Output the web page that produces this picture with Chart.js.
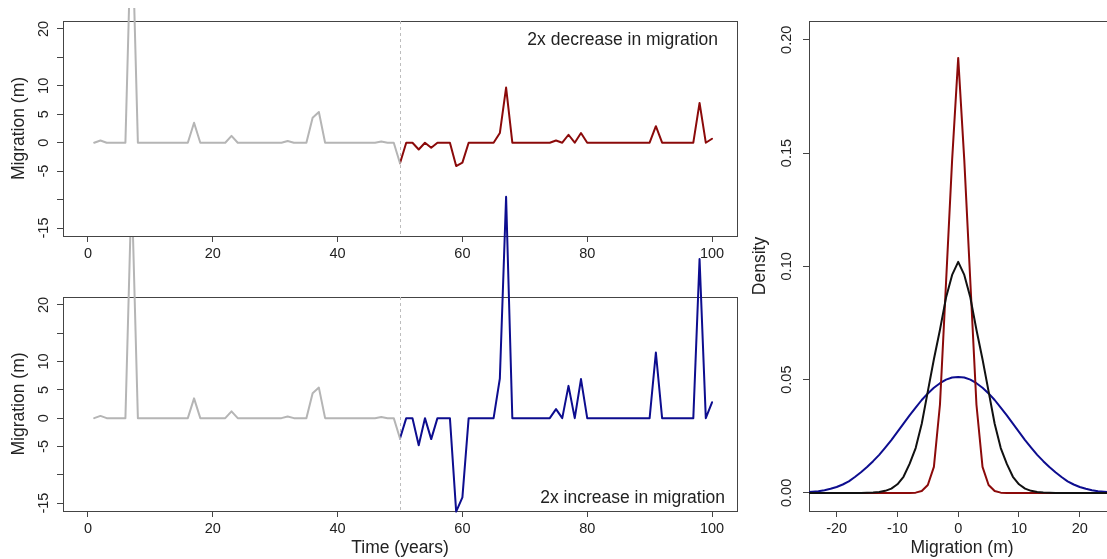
<!DOCTYPE html>
<html>
<head>
<meta charset="utf-8">
<script src="https://cdn.jsdelivr.net/npm/chart.js@4.4.1/dist/chart.umd.min.js"></script>
<style>
  html, body { margin: 0; padding: 0; background: #fff; }
  body { width: 1107px; height: 559px; overflow: hidden; position: relative; }
  canvas { position: absolute; }
</style>
</head>
<body>
<canvas id="top-panel" width="750" height="270" style="left:0;top:0"></canvas>
<canvas id="bottom-panel" width="750" height="379" style="left:0;top:180px"></canvas>
<canvas id="density-panel" width="380" height="559" style="left:750px;top:0"></canvas>
<script>
// --- data ---
const changeYear = 50;
const baseYears = Array.from({ length: 50 }, (_, i) => i + 1);   // 1..50
const afterYears = Array.from({ length: 51 }, (_, i) => i + 50); // 50..100

const baseMigration = [
  0, 0.4, 0, 0, 0, 0, 41, 0, 0, 0,
  0, 0, 0, 0, 0, 0, 3.5, 0, 0, 0,
  0, 0, 1.2, 0, 0, 0, 0, 0, 0, 0,
  0, 0.3, 0, 0, 0, 4.4, 5.4, 0, 0, 0,
  0, 0, 0, 0, 0, 0, 0.2, 0, 0, -3.6
];
const decreaseMigration = [
  -3.6,
  0, 0, -1.2, 0, -0.9, 0, 0, 0, -4.1, -3.5,
  0, 0, 0, 0, 0, 1.7, 9.7, 0, 0, 0,
  0, 0, 0, 0, 0.4, 0, 1.4, 0, 1.7, 0,
  0, 0, 0, 0, 0, 0, 0, 0, 0, 0,
  2.9, 0, 0, 0, 0, 0, 0, 7.0, 0, 0.7
];
const increaseMigration = [
  -3.6,
  0, 0, -4.8, 0, -3.7, 0, 0, 0, -16.5, -14.0,
  0, 0, 0, 0, 0, 7.0, 39.1, 0, 0, 0,
  0, 0, 0, 0, 1.6, 0, 5.7, 0, 6.9, 0,
  0, 0, 0, 0, 0, 0, 0, 0, 0, 0,
  11.6, 0, 0, 0, 0, 0, 0, 28.1, 0, 2.8
];

const timeTicks = [0, 20, 40, 60, 80, 100];
const migTicks = [-15, -10, -5, 0, 5, 10, 15, 20];
const migTickLabels = ['-15', '', '-5', '0', '5', '10', '', '20'];

const densX = Array.from({ length: 51 }, (_, i) => i - 25); // -25..25
const densBase = [
  0, 0, 0, 0, 0, 0, 0, 0, 0, 0,
  0.0001, 0.0002, 0.0004, 0.0009, 0.0019, 0.0038, 0.0071, 0.0128, 0.0198, 0.0305,
  0.0448, 0.0590, 0.0720, 0.0862, 0.0962, 0.1020, 0.0962, 0.0862, 0.0720, 0.0590,
  0.0448, 0.0305, 0.0198, 0.0128, 0.0071, 0.0038, 0.0019, 0.0009, 0.0004, 0.0002,
  0.0001, 0, 0, 0, 0, 0, 0, 0, 0, 0, 0
];
const densDecrease = [
  0, 0, 0, 0, 0, 0, 0, 0, 0, 0,
  0, 0, 0, 0, 0, 0, 0, 0, 0.0001, 0.0008,
  0.0035, 0.0115, 0.0390, 0.0930, 0.1470, 0.1920, 0.1470, 0.0930, 0.0390, 0.0115,
  0.0035, 0.0008, 0.0001, 0, 0, 0, 0, 0, 0, 0,
  0, 0, 0, 0, 0, 0, 0, 0, 0, 0, 0
];
const densIncrease = [
  0.0003, 0.0005, 0.0007, 0.0012, 0.0018, 0.0026, 0.0037, 0.0051, 0.0070, 0.0091,
  0.0114, 0.0140, 0.0168, 0.0200, 0.0233, 0.0269, 0.0306, 0.0342, 0.0376, 0.0410,
  0.0439, 0.0464, 0.0484, 0.0500, 0.0509, 0.0512, 0.0509, 0.0500, 0.0484, 0.0464,
  0.0439, 0.0410, 0.0376, 0.0342, 0.0306, 0.0269, 0.0233, 0.0200, 0.0168, 0.0140,
  0.0114, 0.0091, 0.0070, 0.0051, 0.0037, 0.0026, 0.0018, 0.0012, 0.0007, 0.0005, 0.0003
];
const densXTicks = [-20, -10, 0, 10, 20];
const densYTicks = [0, 0.05, 0.10, 0.15, 0.20];
const densYTickLabels = ['0.00', '0.05', '0.10', '0.15', '0.20'];

// --- styling ---
const FONT = '"Liberation Sans", Arial, Helvetica, sans-serif';
const INK = '#222';
const AXIS = '#444';
const TICK_FONT = { family: FONT, size: 14.5 };
const TITLE_FONT = { family: FONT, size: 17.5 };

Chart.defaults.font.family = FONT;
Chart.defaults.color = INK;

const points = (xs, ys) => xs.map((x, i) => ({ x: x, y: ys[i] }));

// box around plot region, like R's box()
const framePlugin = {
  id: 'frame',
  beforeDatasetsDraw(chart) {
    const { ctx, chartArea: a } = chart;
    ctx.save();
    ctx.strokeStyle = AXIS;
    ctx.lineWidth = 1;
    ctx.strokeRect(Math.round(a.left) + 0.5, Math.round(a.top) + 0.5,
      Math.round(a.right - a.left), Math.round(a.bottom - a.top));
    ctx.restore();
  }
};

// dashed line at the year migration changes
const changePlugin = {
  id: 'change',
  beforeDatasetsDraw(chart, args, opts) {
    if (opts.at === undefined) return;
    const { ctx, chartArea: a, scales } = chart;
    const x = Math.round(scales.x.getPixelForValue(opts.at)) + 0.5;
    ctx.save();
    ctx.strokeStyle = '#bdbdbd';
    ctx.lineWidth = 1;
    ctx.setLineDash([3, 3]);
    ctx.beginPath();
    ctx.moveTo(x, a.top);
    ctx.lineTo(x, a.bottom);
    ctx.stroke();
    ctx.restore();
  }
};

// corner label inside the panel
const notePlugin = {
  id: 'note',
  afterDraw(chart, args, opts) {
    if (!opts.text) return;
    const { ctx, chartArea: a } = chart;
    ctx.save();
    ctx.font = TITLE_FONT.size + 'px ' + FONT;
    ctx.fillStyle = INK;
    ctx.textAlign = 'right';
    ctx.textBaseline = 'middle';
    const y = opts.corner === 'top' ? a.top + opts.dy : a.bottom - opts.dy;
    ctx.fillText(opts.text, a.right - opts.dx, y);
    ctx.restore();
  }
};

function tickGrid() {
  return { display: true, drawOnChartArea: false, drawTicks: true, tickLength: 6, color: AXIS, lineWidth: 1 };
}

function timeScales(xHeight, showTitle) {
  return {
    x: {
      type: 'linear', min: -4, max: 104,
      afterBuildTicks: s => { s.ticks = timeTicks.map(v => ({ value: v })); },
      afterFit: s => { s.height = xHeight; },
      grid: tickGrid(),
      border: { display: false },
      ticks: { font: TICK_FONT, color: INK, padding: 3, maxRotation: 0, autoSkip: false },
      title: { display: showTitle, text: 'Time (years)', font: TITLE_FONT, color: INK, padding: { top: 0, bottom: 0 } }
    },
    y: {
      type: 'linear', min: -16.4, max: 21.4,
      afterBuildTicks: s => { s.ticks = migTicks.map(v => ({ value: v })); },
      afterFit: s => { s.width = 63; },
      grid: tickGrid(),
      border: { display: false },
      ticks: {
        font: TICK_FONT, color: INK, padding: 3, autoSkip: false,
        minRotation: 90, maxRotation: 90, crossAlign: 'center',
        callback: (v, i) => migTickLabels[i]
      },
      title: { display: true, text: 'Migration (m)', font: TITLE_FONT, color: INK, padding: { top: 9, bottom: 0 } }
    }
  };
}

function seriesLine(label, xs, ys, color, clip) {
  return {
    label: label, data: points(xs, ys), borderColor: color, borderWidth: 2,
    pointRadius: 0, tension: 0, fill: false, clip: clip,
    borderJoinStyle: 'round', borderCapStyle: 'round'
  };
}

const common = {
  responsive: false, animation: false, devicePixelRatio: 1, events: []
};

new Chart(document.getElementById('top-panel'), {
  type: 'line',
  plugins: [framePlugin, changePlugin, notePlugin],
  data: {
    datasets: [
      seriesLine('Observed', baseYears, baseMigration, '#b5b5b5', { left: false, top: 13, right: false, bottom: false }),
      seriesLine('2x decrease', afterYears, decreaseMigration, '#8b0a0a', false)
    ]
  },
  options: Object.assign({}, common, {
    layout: { padding: { left: 0, right: 13, top: 21, bottom: 0 } },
    scales: timeScales(34, false),
    plugins: {
      legend: { display: false }, tooltip: { enabled: false },
      change: { at: changeYear },
      note: { text: '2x decrease in migration', corner: 'top', dx: 19, dy: 19 }
    }
  })
});

new Chart(document.getElementById('bottom-panel'), {
  type: 'line',
  plugins: [framePlugin, changePlugin, notePlugin],
  data: {
    datasets: [
      seriesLine('Observed', baseYears, baseMigration, '#b5b5b5', { left: false, top: 60, right: false, bottom: false }),
      seriesLine('2x increase', afterYears, increaseMigration, '#0d0d8f', false)
    ]
  },
  options: Object.assign({}, common, {
    layout: { padding: { left: 0, right: 13, top: 117, bottom: 0 } },
    scales: timeScales(48, true),
    plugins: {
      legend: { display: false }, tooltip: { enabled: false },
      change: { at: changeYear },
      note: { text: '2x increase in migration', corner: 'bottom', dx: 12, dy: 13 }
    }
  })
});

new Chart(document.getElementById('density-panel'), {
  type: 'line',
  plugins: [framePlugin],
  data: {
    datasets: [
      seriesLine('Observed', densX, densBase, '#111111'),
      seriesLine('2x decrease', densX, densDecrease, '#8b0a0a'),
      seriesLine('2x increase', densX, densIncrease, '#0d0d8f')
    ]
  },
  options: Object.assign({}, common, {
    layout: { padding: { left: 0, right: 15, top: 21, bottom: 0 } },
    scales: {
      x: {
        type: 'linear', min: -24.55, max: 25.8,
        afterBuildTicks: s => { s.ticks = densXTicks.map(v => ({ value: v })); },
        afterFit: s => { s.height = 48; },
        grid: tickGrid(),
        border: { display: false },
        ticks: { font: TICK_FONT, color: INK, padding: 3, maxRotation: 0, autoSkip: false },
        title: { display: true, text: 'Migration (m)', font: TITLE_FONT, color: INK, padding: { top: 0, bottom: 0 } }
      },
      y: {
        type: 'linear', min: -0.008, max: 0.2083,
        afterBuildTicks: s => { s.ticks = densYTicks.map(v => ({ value: v })); },
        afterFit: s => { s.width = 59; },
        grid: tickGrid(),
        border: { display: false },
        ticks: {
          font: TICK_FONT, color: INK, padding: 2, autoSkip: false,
          minRotation: 90, maxRotation: 90, crossAlign: 'center',
          callback: (v, i) => densYTickLabels[i]
        },
        title: { display: true, text: 'Density', font: TITLE_FONT, color: INK, padding: { top: 0, bottom: 0 } }
      }
    },
    plugins: { legend: { display: false }, tooltip: { enabled: false } }
  })
});
</script>
</body>
</html>
